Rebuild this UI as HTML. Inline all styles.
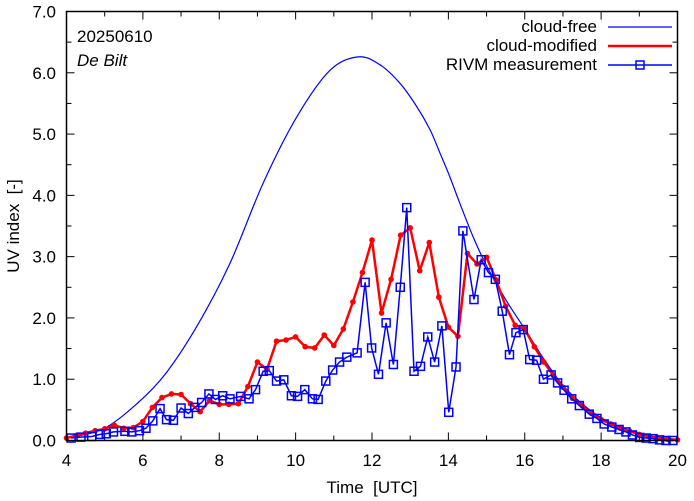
<!DOCTYPE html>
<html><head><meta charset="utf-8"><style>
html,body{margin:0;padding:0;background:#fff;}
svg{display:block;font-family:"Liberation Sans",sans-serif;}
</style></head><body>
<svg id="chart" width="694" height="501" viewBox="0 0 694 501" xmlns="http://www.w3.org/2000/svg">
<rect x="0" y="0" width="694" height="501" fill="#fff"/>
<g id="grid"></g>
<g id="series"></g>
<rect x="66.5" y="11.5" width="611" height="429" fill="none" stroke="#000" stroke-width="1.5"/>
<text x="77" y="42" font-size="17">20250610</text>
<text x="77" y="66" font-size="17" font-style="italic">De Bilt</text>
<text transform="translate(19,226) rotate(-90)" text-anchor="middle" font-size="17" xml:space="preserve">UV index  [-]</text>
<text x="372" y="493" text-anchor="middle" font-size="17" xml:space="preserve">Time  [UTC]</text>
<g>
<g>
<text x="597" y="32" text-anchor="end" font-size="17">cloud-free</text>
<line x1="608" y1="27" x2="672" y2="27" stroke="#0000ff" stroke-width="1.2"/>
</g>
<g>
<text x="597" y="51" text-anchor="end" font-size="17">cloud-modified</text>
<line x1="608" y1="46" x2="672" y2="46" stroke="#ff0000" stroke-width="2.5"/>
</g>
<g>
<text x="597" y="70" text-anchor="end" font-size="17">RIVM measurement</text>
<line x1="608" y1="65" x2="672" y2="65" stroke="#0000ff" stroke-width="1.5"/>
<rect x="636" y="61" width="8" height="8" fill="none" stroke="#0000ff" stroke-width="1.5"/>
</g>
</g>
</svg>
<script>
const xTicks = [4, 6, 8, 10, 12, 14, 16, 18, 20];
const yTicks = [0, 1, 2, 3, 4, 5, 6, 7];
const yTickLabels = ["0.0", "1.0", "2.0", "3.0", "4.0", "5.0", "6.0", "7.0"];

const cfTimes = [4, 4.5, 5.0, 5.66, 6.53, 7.41, 8.28, 9.15, 10.03, 10.9, 11.64, 12.21, 12.73, 13.17, 13.52, 13.78, 14.04, 14.3, 14.65, 15.0, 15.5, 16.0, 16.5, 17, 17.5, 18, 18.5, 19, 19.5, 20];
const cfValues = [0.04, 0.1, 0.2, 0.5, 1.04, 1.86, 2.89, 4.2, 5.28, 6.04, 6.26, 6.13, 5.83, 5.45, 5.07, 4.69, 4.30, 3.87, 3.32, 2.85, 2.3, 1.82, 1.33, 0.9, 0.6, 0.37, 0.22, 0.12, 0.05, 0.02];

const cmTimes = [4.0,4.25,4.5,4.75,5.0,5.25,5.5,5.75,6.0,6.25,6.5,6.75,7.0,7.25,7.5,7.75,8.0,8.25,8.5,8.75,9.0,9.25,9.5,9.75,10.0,10.25,10.5,10.75,11.0,11.25,11.5,11.75,12.0,12.25,12.5,12.75,13.0,13.25,13.5,13.75,14.0,14.25,14.5,14.75,15.0,15.25,15.5,15.75,16.0,16.25,16.5,16.75,17.0,17.25,17.5,17.75,18.0,18.25,18.5,18.75,19.0,19.25,19.5,19.75,20.0];
const cmValues = [0.04,0.08,0.12,0.16,0.19,0.25,0.2,0.21,0.31,0.54,0.70,0.76,0.75,0.6,0.47,0.65,0.59,0.59,0.6,0.88,1.28,1.16,1.62,1.64,1.69,1.53,1.51,1.72,1.55,1.82,2.26,2.74,3.27,2.08,2.63,3.35,3.47,2.77,3.23,2.34,1.85,1.7,3.05,2.88,2.99,2.62,2.19,1.88,1.82,1.53,1.28,1.06,0.87,0.69,0.57,0.44,0.34,0.27,0.2,0.15,0.1,0.07,0.04,0.02,0.01];

const msTimes = [4.12,4.38,4.66,4.88,5.04,5.23,5.53,5.71,5.91,6.08,6.26,6.45,6.62,6.8,7.0,7.19,7.36,7.54,7.73,7.9,8.09,8.28,8.56,8.78,8.95,9.15,9.31,9.5,9.69,9.89,10.05,10.24,10.44,10.59,10.79,10.97,11.15,11.34,11.61,11.82,11.99,12.17,12.37,12.56,12.74,12.91,13.1,13.27,13.46,13.64,13.83,14.01,14.2,14.38,14.67,14.86,15.05,15.23,15.41,15.6,15.77,15.96,16.13,16.31,16.49,16.69,16.86,17.03,17.23,17.43,17.69,17.89,18.08,18.28,18.47,18.65,18.82,19.01,19.18,19.36,19.53,19.7,19.88];
const msValues = [0.04,0.055,0.065,0.1,0.11,0.14,0.15,0.14,0.16,0.2,0.32,0.52,0.34,0.33,0.53,0.44,0.54,0.62,0.76,0.67,0.73,0.68,0.72,0.68,0.83,1.13,1.14,0.97,0.99,0.73,0.72,0.83,0.68,0.67,0.97,1.15,1.28,1.36,1.43,2.58,1.51,1.08,1.92,1.24,2.5,3.8,1.13,1.21,1.69,1.28,1.87,0.46,1.2,3.42,2.3,2.95,2.74,2.63,2.11,1.4,1.76,1.81,1.32,1.31,1.0,1.07,0.94,0.82,0.68,0.57,0.43,0.36,0.27,0.22,0.18,0.14,0.09,0.05,0.04,0.03,0.01,0.0,0.0];

const NS = "http://www.w3.org/2000/svg";
const X0 = 66.5, X1 = 677.5, Y0 = 440.5, Y1 = 11.5;
function xs(t){ return X0 + (t - 4) / 16 * (X1 - X0); }
function ys(v){ return Y0 - v / 7 * (Y0 - Y1); }
function mk(tag, attrs){ const e = document.createElementNS(NS, tag); for (const k in attrs) e.setAttribute(k, attrs[k]); return e; }

const grid = document.getElementById('grid');
const series = document.getElementById('series');

for (let h = 4; h <= 20; h++) {
  const x = xs(h);
  const len = (h % 2 === 0) ? 8 : 5;
  const t1 = mk('line', {x1:x, y1:Y0, x2:x, y2:Y0-len, stroke:'#000', 'stroke-width':1});
  
  
  grid.appendChild(t1);
  const t2 = mk('line', {x1:x, y1:Y1, x2:x, y2:Y1+len, stroke:'#000', 'stroke-width':1});
  
  
  grid.appendChild(t2);
}
xTicks.forEach(t => {
  const lb = mk('text', {x:xs(t), y:466, 'text-anchor':'middle', 'font-size':17});
  lb.textContent = String(t);
  
  
  grid.appendChild(lb);
});
for (let i = 0; i <= 14; i++) {
  const v = i * 0.5, y = ys(v);
  const len = (i % 2 === 0) ? 8 : 5;
  const t1 = mk('line', {x1:X0, y1:y, x2:X0+len, y2:y, stroke:'#000', 'stroke-width':1});
  
  
  grid.appendChild(t1);
  const t2 = mk('line', {x1:X1, y1:y, x2:X1-len, y2:y, stroke:'#000', 'stroke-width':1});
  
  
  grid.appendChild(t2);
}
yTicks.forEach((v, i) => {
  const lb = mk('text', {x:56, y:ys(v)+6, 'text-anchor':'end', 'font-size':17});
  lb.textContent = yTickLabels[i];
  
  
  grid.appendChild(lb);
});

(function(){
  const P = cfTimes.map((t, i) => [xs(t), ys(cfValues[i])]);
  let d = 'M' + P[0][0] + ' ' + P[0][1];
  for (let i = 0; i < P.length - 1; i++) {
    const p0 = P[Math.max(i-1,0)], p1 = P[i], p2 = P[i+1], p3 = P[Math.min(i+2,P.length-1)];
    const c1 = [p1[0] + (p2[0]-p0[0])/6, p1[1] + (p2[1]-p0[1])/6];
    const c2 = [p2[0] - (p3[0]-p1[0])/6, p2[1] - (p3[1]-p1[1])/6];
    d += ' C' + c1[0] + ' ' + c1[1] + ' ' + c2[0] + ' ' + c2[1] + ' ' + p2[0] + ' ' + p2[1];
  }
  const path = mk('path', {d:d, fill:'none', stroke:'#0000ff', 'stroke-width':1.2});
  
  
  series.appendChild(path);
})();

(function(){
  const pts = cmTimes.map((t, i) => xs(t) + ',' + ys(cmValues[i])).join(' ');
  const pl = mk('polyline', {points:pts, fill:'none', stroke:'#ff0000', 'stroke-width':2.5, 'stroke-linejoin':'round'});
  
  
  series.appendChild(pl);
  cmTimes.forEach((t, i) => {
    const c = mk('circle', {cx:xs(t), cy:ys(cmValues[i]), r:2.8, fill:'#ff0000'});
    
    
    series.appendChild(c);
  });
})();

(function(){
  const pts = msTimes.map((t, i) => xs(t) + ',' + ys(msValues[i])).join(' ');
  const pl = mk('polyline', {points:pts, fill:'none', stroke:'#0000ff', 'stroke-width':1.5});
  
  
  series.appendChild(pl);
  msTimes.forEach((t, i) => {
    const r = mk('rect', {x:xs(t)-4, y:ys(msValues[i])-4, width:8, height:8, fill:'none', stroke:'#0000ff', 'stroke-width':1.5});
    
    
    series.appendChild(r);
  });
})();
</script>
</body></html>
